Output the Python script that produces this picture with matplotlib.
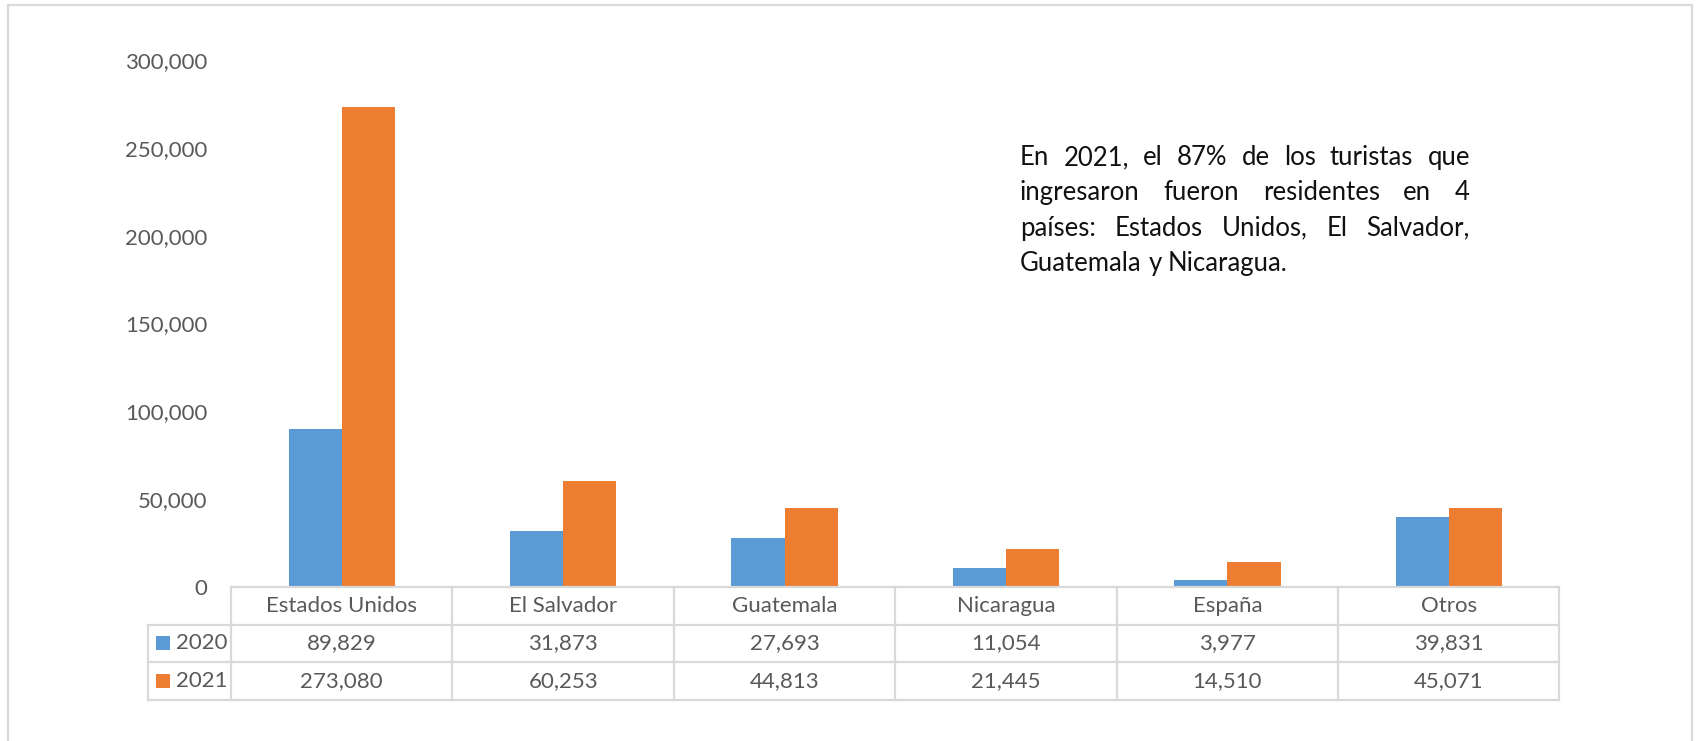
import matplotlib
matplotlib.use("Agg")
import matplotlib.pyplot as plt
from matplotlib.patches import Rectangle
import numpy as np

# ---------------- data ----------------
categories = ["Estados Unidos", "El Salvador", "Guatemala", "Nicaragua", "España", "Otros"]
series_names = ["2020", "2021"]
values_2020 = [89829, 31873, 27693, 11054, 3977, 39831]
values_2021 = [273080, 60253, 44813, 21445, 14510, 45071]
y_ticks = [0, 50000, 100000, 150000, 200000, 250000, 300000]
note_lines = [
    "En 2021, el 87% de los turistas que",
    "ingresaron fueron residentes en 4",
    "países: Estados Unidos, El Salvador,",
    "Guatemala y Nicaragua.",
]

# ---------------- style ----------------
BLUE = "#5B9BD5"
ORANGE = "#ED7D31"
GRAY_TXT = "#595959"
GRID = "#D9D9D9"
FONT = "Lato"
plt.rcParams["font.family"] = [FONT, "DejaVu Sans"]

W, H = 1699, 741
fig = plt.figure(figsize=(W / 100, H / 100), dpi=100)

def fx(px):
    return px / W

def fy(py):
    return 1 - py / H

# outer chart border
fig.add_artist(Rectangle((fx(8), fy(745)), fx(1692) - fx(8), fy(5) - fy(745),
                         transform=fig.transFigure, fill=False, ec=GRID, lw=1.6))

# ---------------- main axes ----------------
x_left, x_right = 231, 1559.5
y_zero, y_top = 587, 60
ax = fig.add_axes([fx(x_left), fy(y_zero), fx(x_right) - fx(x_left), fy(y_top) - fy(y_zero)])
x = np.arange(len(categories))
bw = 0.24
ax.bar(x - bw / 2, values_2020, width=bw, color=BLUE, label=series_names[0])
ax.bar(x + bw / 2, values_2021, width=bw, color=ORANGE, label=series_names[1])
ax.set_xlim(-0.5, len(categories) - 0.5)
ax.set_ylim(0, 300000)
ax.set_yticks(y_ticks)
ax.set_yticklabels([f"{v:,}" for v in y_ticks], fontsize=16, color=GRAY_TXT)
ax.tick_params(axis="y", length=0, pad=17)
ax.set_xticks([])
for s in ax.spines.values():
    s.set_visible(False)

# ---------------- data table ----------------
leg_px = x_left - 148
col_px = (x_right - x_left) / len(categories)
leg_units = leg_px / col_px
t_bottom = 700
tax = fig.add_axes([fx(148), fy(t_bottom), fx(x_right) - fx(148), fy(y_zero) - fy(t_bottom)])
tax.set_xlim(-0.5 - leg_units, len(categories) - 0.5)
tax.set_ylim(3, 0)
tax.axis("off")
lw = 1.6
xs_left = -0.5 - leg_units
xe = len(categories) - 0.5
# horizontal lines
tax.plot([-0.5, xe], [0, 0], color=GRID, lw=lw, clip_on=False, solid_capstyle="butt")
for r in [1, 2, 3]:
    tax.plot([xs_left, xe], [r, r], color=GRID, lw=lw, clip_on=False, solid_capstyle="butt")
# vertical lines
tax.plot([xs_left, xs_left], [1, 3], color=GRID, lw=lw, clip_on=False)
for i in range(len(categories) + 1):
    tax.plot([i - 0.5, i - 0.5], [0, 3], color=GRID, lw=lw, clip_on=False)

for i, c in enumerate(categories):
    tax.text(i, 0.5, c, ha="center", va="center", fontsize=16, color=GRAY_TXT)
    tax.text(i, 1.5, f"{values_2020[i]:,}", ha="center", va="center", fontsize=16, color=GRAY_TXT)
    tax.text(i, 2.5, f"{values_2021[i]:,}", ha="center", va="center", fontsize=16, color=GRAY_TXT)

# legend keys in first column
for row, (name, col) in enumerate(zip(series_names, [BLUE, ORANGE]), start=1):
    ycen = 643 if row == 1 else 681
    fig.add_artist(Rectangle((fx(156), fy(ycen + 7)), fx(14), fy(ycen - 7) - fy(ycen + 7),
                             transform=fig.transFigure, color=col, lw=0))
    fig.text(fx(176), fy(ycen), name, ha="left", va="center", fontsize=16, color=GRAY_TXT)

# ---------------- justified note ----------------
renderer = fig.canvas.get_renderer()
box_l, box_r = 1020, 1470
base0, spacing = 165, 35.3
for li, line in enumerate(note_lines):
    yb = base0 + li * spacing
    words = line.split(" ")
    txts = [fig.text(0, fy(yb), w, ha="left", va="baseline", fontsize=18.5, color="#111111")
            for w in words]
    widths = [t.get_window_extent(renderer=renderer).width for t in txts]
    if li < len(note_lines) - 1 and len(words) > 1:
        gap = (box_r - box_l - sum(widths)) / (len(words) - 1)
    else:
        sp = fig.text(0, 0, "a a", fontsize=18.5)
        sp2 = fig.text(0, 0, "aa", fontsize=18.5)
        gap = sp.get_window_extent(renderer=renderer).width - sp2.get_window_extent(renderer=renderer).width
        sp.remove(); sp2.remove()
    xcur = box_l
    for t, wdt in zip(txts, widths):
        t.set_x(fx(xcur))
        xcur += wdt + gap

fig.savefig("out.png", dpi=100)
